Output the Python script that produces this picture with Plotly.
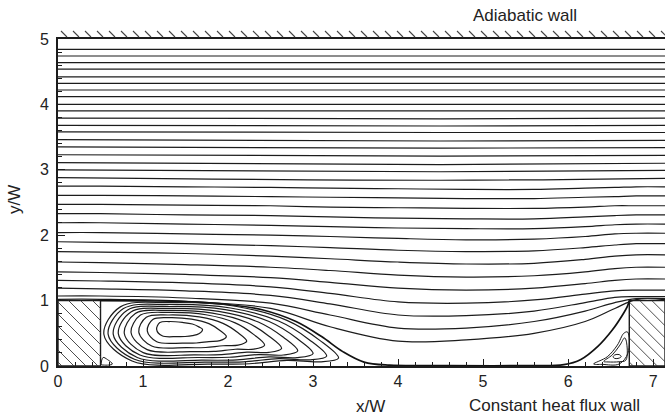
import plotly.graph_objects as go

# ---------------- data ----------------
# x stations used for the lower (curved) streamlines
x_stations = [0.0, 0.5, 1.5, 2.5, 3.2, 4.0, 4.8, 5.6, 6.2, 6.55, 6.8, 7.14]
# y of each lower streamline at the stations (bottom to top)
lower_y = [
    [1.02, 1.02, 0.99, 0.88, 0.60, 0.38, 0.40, 0.50, 0.68, 0.88, 1.015, 1.015],
    [1.07, 1.07, 1.04, 0.96, 0.78, 0.58, 0.58, 0.68, 0.84, 0.97, 1.03, 1.03],
    [1.19, 1.18, 1.15, 1.08, 0.95, 0.78, 0.77, 0.84, 0.97, 1.05, 1.06, 1.06],
    [1.31, 1.30, 1.27, 1.21, 1.11, 0.98, 0.96, 1.01, 1.10, 1.15, 1.16, 1.16],
    [1.44, 1.43, 1.40, 1.35, 1.28, 1.19, 1.16, 1.19, 1.26, 1.31, 1.33, 1.33],
    [1.59, 1.58, 1.55, 1.51, 1.46, 1.39, 1.36, 1.38, 1.44, 1.49, 1.51, 1.51],
    [1.75, 1.74, 1.72, 1.68, 1.64, 1.59, 1.56, 1.57, 1.63, 1.68, 1.70, 1.70],
    [1.90, 1.89, 1.87, 1.84, 1.81, 1.77, 1.75, 1.76, 1.81, 1.85, 1.87, 1.87],
    [2.04, 2.04, 2.02, 2.00, 1.98, 1.95, 1.93, 1.94, 1.98, 2.02, 2.03, 2.03],
    [2.19, 2.19, 2.17, 2.15, 2.13, 2.11, 2.10, 2.10, 2.13, 2.16, 2.17, 2.17],
    [2.33, 2.33, 2.31, 2.30, 2.28, 2.26, 2.25, 2.25, 2.28, 2.30, 2.31, 2.31],
    [2.47, 2.47, 2.46, 2.45, 2.43, 2.42, 2.41, 2.41, 2.43, 2.45, 2.45, 2.45],
    [2.61, 2.61, 2.60, 2.59, 2.58, 2.57, 2.56, 2.56, 2.58, 2.59, 2.60, 2.60],
    [2.75, 2.75, 2.74, 2.73, 2.72, 2.71, 2.70, 2.70, 2.72, 2.73, 2.74, 2.74],
]
# upper (nearly straight) streamlines: y at left, middle (x=4.5), right
upper_x = [0.0, 4.5, 7.14]
upper_y_left = [2.88, 3.00, 3.11, 3.23, 3.35, 3.46, 3.58, 3.68, 3.79, 3.90,
                4.00, 4.12, 4.22, 4.32, 4.42, 4.54, 4.64, 4.74, 4.84]
upper_y_mid = [2.84, 2.97, 3.08, 3.21, 3.33, 3.44, 3.57, 3.67, 3.78, 3.90,
               4.00, 4.12, 4.22, 4.32, 4.42, 4.54, 4.64, 4.74, 4.84]
upper_y_right = [2.87, 2.99, 3.10, 3.22, 3.34, 3.45, 3.57, 3.68, 3.79, 3.90,
                 4.00, 4.12, 4.22, 4.32, 4.42, 4.54, 4.64, 4.74, 4.84]

# dividing streamline (from the upstream step corner to the downstream step corner)
sep_x = [0.5, 1.0, 1.5, 2.0, 2.4, 2.8, 3.1, 3.35, 3.6, 3.9, 4.5, 5.5, 5.95,
         6.15, 6.35, 6.52, 6.64, 6.70, 6.72]
sep_y = [1.0, 0.995, 0.985, 0.94, 0.86, 0.68, 0.45, 0.22, 0.06, 0.012, 0.006,
         0.006, 0.02, 0.10, 0.30, 0.55, 0.78, 0.92, 1.0]

# main recirculation vortex: nested loops (outer to inner)
loop_xl = [0.54, 0.59, 0.65, 0.71, 0.78, 0.86, 0.95, 1.05, 1.16]
loop_xr = [3.30, 3.16, 3.00, 2.82, 2.63, 2.43, 2.22, 1.98, 1.70]
loop_yt = [0.97, 0.94, 0.91, 0.88, 0.85, 0.82, 0.78, 0.74, 0.68]
loop_yb = [0.03, 0.06, 0.09, 0.13, 0.17, 0.22, 0.28, 0.35, 0.45]
loop_ytip = [0.12, 0.15, 0.19, 0.23, 0.27, 0.32, 0.38, 0.45, 0.56]

# small corner vortex in front of the downstream step (outer and inner loops)
corner_out_x = [6.30, 6.46, 6.58, 6.655, 6.70, 6.705, 6.60, 6.40, 6.30]
corner_out_y = [0.03, 0.14, 0.32, 0.50, 0.52, 0.20, 0.03, 0.025, 0.03]
corner_x = [6.42, 6.52, 6.61, 6.665, 6.685, 6.68, 6.60, 6.47, 6.42]
corner_y = [0.07, 0.17, 0.32, 0.43, 0.38, 0.09, 0.065, 0.062, 0.07]
corner_in_x = [6.53, 6.55, 6.60, 6.625, 6.60, 6.55, 6.53]
corner_in_y = [0.14, 0.17, 0.175, 0.145, 0.12, 0.115, 0.14]
# small corner loop behind the upstream step
lcorner_x = [0.51, 0.53, 0.58, 0.64, 0.60, 0.53, 0.51]
lcorner_y = [0.02, 0.13, 0.10, 0.03, 0.015, 0.015, 0.02]

# solid blocks (steps): x0, x1, y0, y1
left_block = [0.0, 0.5, 0.0, 1.0]
right_block = [6.72, 7.14, 0.0, 1.0]

x_ticks = [0, 1, 2, 3, 4, 5, 6, 7]
y_ticks = [0, 1, 2, 3, 4, 5]
X_RANGE = [0, 7.14]
Y_RANGE = [0, 5]

# ---------------- drawing ----------------
PLOT_W = 607.0
PLOT_H = 327.0
PX_PER_X = PLOT_W / (X_RANGE[1] - X_RANGE[0])
PX_PER_Y = PLOT_H / (Y_RANGE[1] - Y_RANGE[0])

LINE = dict(color="#1c1c1c", width=1.2, shape="spline", smoothing=1.0)
fig = go.Figure()


def hatch_segments(x0, x1, y0, y1, spacing_px=12.0):
    """'\\' hatch lines (45 deg on screen) clipped to a rectangle."""
    xs, ys = [], []
    wpx = (x1 - x0) * PX_PER_X
    hpx = (y1 - y0) * PX_PER_Y
    c = -hpx + 4.0
    while c < wpx:
        t0 = max(0.0, -c)
        t1 = min(hpx, wpx - c)
        if t1 > t0:
            for t in (t0, t1):
                xs.append(x0 + (c + t) / PX_PER_X)
                ys.append(y0 + (hpx - t) / PX_PER_Y)
            xs.append(None)
            ys.append(None)
        c += spacing_px
    return xs, ys


for bx0, bx1, by0, by1 in [left_block, right_block]:
    fig.add_trace(go.Scatter(
        x=[bx0, bx1, bx1, bx0, bx0], y=[by0, by0, by1, by1, by0], mode="lines",
        fill="toself", fillcolor="white", line=dict(color="#1c1c1c", width=1.4),
        hoverinfo="skip", showlegend=False))
    hx, hy = hatch_segments(bx0, bx1, by0, by1)
    fig.add_trace(go.Scatter(x=hx, y=hy, mode="lines",
                             line=dict(color="#3a3a3a", width=0.9),
                             hoverinfo="skip", showlegend=False))

# lower streamlines
for row in lower_y:
    fig.add_trace(go.Scatter(x=x_stations, y=row, mode="lines", line=LINE,
                             hoverinfo="skip", showlegend=False))
# upper streamlines
for yl, ym, yr in zip(upper_y_left, upper_y_mid, upper_y_right):
    fig.add_trace(go.Scatter(x=upper_x, y=[yl, ym, yr], mode="lines", line=LINE,
                             hoverinfo="skip", showlegend=False))
# dividing streamline
fig.add_trace(go.Scatter(x=sep_x, y=sep_y, mode="lines",
                         line=dict(color="#111111", width=1.7, shape="spline"),
                         hoverinfo="skip", showlegend=False))

# vortex loops built from their read extents (start/end at bottom middle)
FX = [0.45, 0.12, 0.0, 0.07, 0.28, 0.56, 0.78, 0.92, 1.0, 0.92, 0.78, 0.62, 0.45]
for xl, xr, yt, yb, ytp in zip(loop_xl, loop_xr, loop_yt, loop_yb, loop_ytip):
    w = xr - xl
    h = yt - yb
    px = [xl + f * w for f in FX]
    py = [yb, yb + 0.05 * h, yb + 0.48 * h, yb + 0.93 * h, yt,
          yt - 0.06 * h, ytp + 0.68 * (yt - ytp), ytp + 0.32 * (yt - ytp), ytp,
          ytp - 0.62 * (ytp - yb), yb + 0.06 * h, yb + 0.005 * h, yb]
    fig.add_trace(go.Scatter(x=px, y=py, mode="lines", line=LINE,
                             hoverinfo="skip", showlegend=False))

for cx, cy in [(corner_out_x, corner_out_y), (corner_x, corner_y),
               (corner_in_x, corner_in_y), (lcorner_x, lcorner_y)]:
    fig.add_trace(go.Scatter(x=cx, y=cy, mode="lines",
                             line=dict(color="#1c1c1c", width=1.0, shape="spline"),
                             hoverinfo="skip", showlegend=False))

# hatch strokes above the adiabatic (top) wall
shapes = []
n_strokes = 52
for k in range(n_strokes):
    x0 = (k * 12.0 + 3.0) / PLOT_W
    shapes.append(dict(type="line", xref="paper", yref="paper",
                       x0=x0, y0=1 + 8.0 / PLOT_H, x1=x0 + 6.0 / PLOT_W, y1=1 + 2.0 / PLOT_H,
                       line=dict(color="#444444", width=1.1)))

FONT = "Liberation Sans, Arial, Helvetica, sans-serif"
TXT = dict(size=17, color="#222", family=FONT)
annotations = [
    dict(text="Adiabatic wall", x=(525 - 58) / PLOT_W, y=1 + (39 - 15) / PLOT_H,
         xref="paper", yref="paper", showarrow=False, xanchor="center", yanchor="middle",
         font=TXT),
    dict(text="Constant heat flux wall", x=(554 - 58) / PLOT_W, y=(366 - 405) / PLOT_H,
         xref="paper", yref="paper", showarrow=False, xanchor="center", yanchor="middle",
         font=TXT),
    dict(text="x/W", x=(370 - 58) / PLOT_W, y=(366 - 406) / PLOT_H,
         xref="paper", yref="paper", showarrow=False, xanchor="center", yanchor="middle",
         font=TXT),
    dict(text="y/W", x=(14 - 58) / PLOT_W, y=(366 - 200) / PLOT_H, textangle=-90,
         xref="paper", yref="paper", showarrow=False, xanchor="center", yanchor="middle",
         font=TXT),
]

fig.update_layout(
    width=665, height=415,
    margin=dict(l=58, r=0, t=39, b=49),
    paper_bgcolor="white", plot_bgcolor="white",
    showlegend=False,
    shapes=shapes,
    annotations=annotations,
    font=dict(family=FONT, size=16, color="#222"),
)
fig.update_xaxes(
    range=X_RANGE, tickvals=x_ticks, ticktext=[str(v) for v in x_ticks],
    showgrid=False, zeroline=False, showline=True, linewidth=2, linecolor="#1c1c1c",
    mirror=True, ticks="inside", ticklen=7, tickwidth=1.2, tickcolor="#1c1c1c",
    minor=dict(ticks="inside", ticklen=4, dtick=0.2, tickcolor="#1c1c1c", showgrid=False),
    tickfont=dict(size=16, family=FONT, color="#222"),
)
fig.update_yaxes(
    range=Y_RANGE, tickvals=y_ticks, ticktext=[str(v) for v in y_ticks],
    showgrid=False, zeroline=False, showline=True, linewidth=2, linecolor="#1c1c1c",
    mirror=False, ticks="inside", ticklen=7, tickwidth=1.2, tickcolor="#1c1c1c",
    minor=dict(ticks="inside", ticklen=4, dtick=0.2, tickcolor="#1c1c1c", showgrid=False),
    tickfont=dict(size=16, family=FONT, color="#222"), ticklabelstandoff=4,
)

fig.write_html("out.html")
